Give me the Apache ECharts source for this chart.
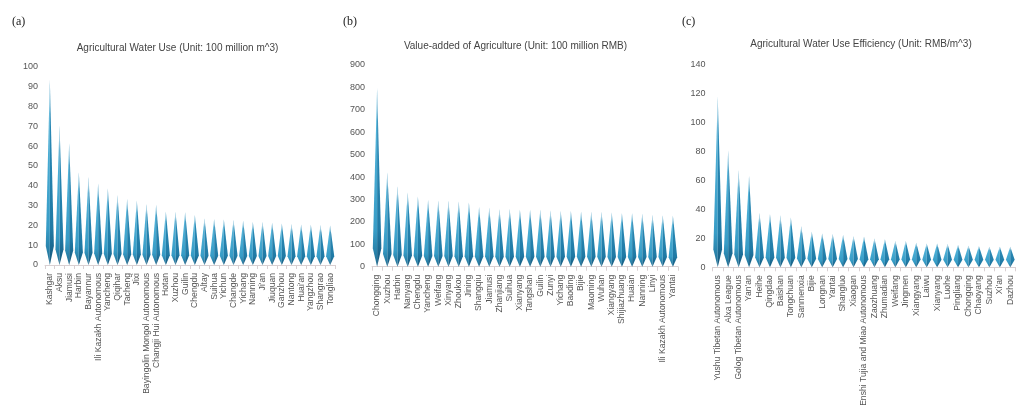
<!DOCTYPE html>
<html>
<head>
<meta charset="utf-8">
<script src="https://cdn.jsdelivr.net/npm/echarts@6/dist/echarts.min.js"></script>
<style>
  html, body { margin: 0; padding: 0; background: #fff; }
  #chart { width: 1016px; height: 412px; }
</style>
</head>
<body>
<div id="chart"></div>
<script>
// (a) Agricultural water use, 100 million m^3
const waterCities = ['Kashgar', 'Aksu', 'Jiamusi', 'Harbin', 'Bayannur', 'Ili Kazakh Autonomous', 'Yancheng', 'Qiqihar', 'Tacheng', 'Jixi',
  'Bayingolin Mongol Autonomous', 'Changji Hui Autonomous', 'Hotan', 'Xuzhou', 'Guilin', 'Chengdu', 'Altay', 'Suihua', 'Yichun', 'Changde',
  'Yichang', 'Nanning', "Ji'an", 'Jiuquan', 'Ganzhou', 'Nantong', "Huai'an", 'Yangzhou', 'Shangrao', 'Tongliao'];
const waterUse = [93.4, 70.5, 61.5, 46.7, 44.5, 41.2, 38.7, 35.3, 33.3, 32.4,
  30.8, 30.4, 26.9, 26.9, 26.6, 25.2, 23.5, 23.2, 23.0, 22.7,
  22.4, 21.7, 21.7, 21.3, 21.0, 20.7, 20.5, 20.3, 20.2, 20.0];

// (b) Value-added of agriculture, 100 million RMB
const valueCities = ['Chongqing', 'Xuzhou', 'Harbin', 'Nanyang', 'Chengdu', 'Yancheng', 'Weifang', 'Xinyang', 'Zhoukou', 'Jining',
  'Shangqiu', 'Jiamusi', 'Zhanjiang', 'Suihua', 'Xianyang', 'Tangshan', 'Guilin', 'Zunyi', 'Yichang', 'Baoding',
  'Bijie', 'Maoming', 'Wuhan', 'Xiangyang', 'Shijiazhuang', 'Huaian', 'Nanning', 'Linyi', 'Ili Kazakh Autonomous', 'Yantai'];
const valueAdded = [797, 421, 358, 331, 313, 298, 295, 294, 291, 287,
  266, 263, 257, 257, 254, 254, 254, 251, 249, 248,
  246, 245, 245, 242, 239, 239, 236, 231, 230, 227];

// (c) Agricultural water use efficiency, RMB/m^3
const effCities = ['Yushu Tibetan Autonomous', 'Alxa League', 'Golog Tibetan Autonomous', "Yan'an", 'Heihe', 'Qingdao', 'Baishan', 'Tongchuan', 'Sanmenxia', 'Bijie',
  'Longnan', 'Yantai', 'Shangluo', 'Xiaogan', 'Enshi Tujia and Miao Autonomous', 'Zaozhuang', 'Zhumadian', 'Weifang', 'Jingmen', 'Xiangyang',
  'Laiwu', 'Xianyang', 'Luohe', 'Pingliang', 'Chongqing', 'Chaoyang', 'Suzhou', "Xi'an", 'Dazhou'];
const efficiency = [117.7, 80.5, 67.0, 63.0, 37.5, 36.6, 35.9, 34.3, 28.3, 24.5,
  23.3, 22.9, 22.2, 21.5, 21.0, 19.9, 19.4, 18.1, 18.1, 16.9,
  16.5, 16.5, 16.0, 15.3, 14.9, 14.6, 14.2, 14.2, 14.2];

const yTicks = [
  { max: 100, interval: 10 },
  { max: 900, interval: 100 },
  { max: 140, interval: 20 }
];

const sans = 'Liberation Sans, Arial, sans-serif';
const serif = 'Liberation Serif, Times New Roman, serif';

function vGrad(stops) {
  return { type: 'linear', x: 0, y: 0, x2: 0, y2: 1, global: false,
    colorStops: stops.map(s => ({ offset: s[0], color: s[1] })) };
}

// One faceted spike per city: a lit left face, a shaded right face,
// and a pale fade toward the tip.
function spikeItem(params, api) {
  const i = api.value(0);
  const v = api.value(1);
  const top = api.coord([i, v]);
  const base = api.coord([i, 0]);
  const band = api.size([1, 0])[0];
  const hw = band * 0.42;
  const cx = top[0], yt = top[1], y0 = base[1];
  const h = y0 - yt;
  const yw = y0 - (6 + 0.07 * h);
  return {
    type: 'group',
    children: [
      { type: 'polygon', shape: { points: [[cx, yt], [cx - hw, yw], [cx, y0]] },
        style: { fill: vGrad([[0, '#5abbe0'], [0.8, '#379cc6'], [1, '#1f6f95']]) } },
      { type: 'polygon', shape: { points: [[cx, yt], [cx + hw, yw], [cx, y0]] },
        style: { fill: vGrad([[0, '#2e8fbb'], [0.8, '#207aa5'], [1, '#16587c']]) } },
      { type: 'polygon', shape: { points: [[cx, yt], [cx - hw, yw], [cx, y0], [cx + hw, yw]] },
        style: { fill: vGrad([[0, 'rgba(236,238,240,0.95)'], [0.18, 'rgba(255,255,255,0)'], [1, 'rgba(255,255,255,0)']]) } }
    ]
  };
}

const panels = [
  { cities: waterCities, values: waterUse, grid: { left: 45, top: 67, width: 290, height: 198 } },
  { cities: valueCities, values: valueAdded, grid: { left: 372, top: 65, width: 306, height: 201.7 } },
  { cities: effCities, values: efficiency, grid: { left: 712.5, top: 64.3, width: 303, height: 203 } }
];

const chart = echarts.init(document.getElementById('chart'), null, { renderer: 'canvas' });

chart.setOption({
  backgroundColor: '#fff',
  animation: false,
  title: [
    { text: '(a)', left: 12, top: 16, padding: 0, textStyle: { fontFamily: serif, fontSize: 12, fontWeight: 'normal', color: '#222' } },
    { text: '(b)', left: 343, top: 16, padding: 0, textStyle: { fontFamily: serif, fontSize: 12, fontWeight: 'normal', color: '#222' } },
    { text: '(c)', left: 682, top: 16, padding: 0, textStyle: { fontFamily: serif, fontSize: 12, fontWeight: 'normal', color: '#222' } },
    { text: 'Agricultural Water Use (Unit: 100 million m^3)', left: 177.5, top: 43, textAlign: 'center', padding: 0,
      textStyle: { fontFamily: sans, fontSize: 10, fontWeight: 'normal', color: '#444' } },
    { text: 'Value-added of Agriculture (Unit: 100 million RMB)', left: 515.5, top: 41, textAlign: 'center', padding: 0,
      textStyle: { fontFamily: sans, fontSize: 10, fontWeight: 'normal', color: '#444' } },
    { text: 'Agricultural Water Use Efficiency (Unit: RMB/m^3)', left: 861, top: 39.5, textAlign: 'center', padding: 0,
      textStyle: { fontFamily: sans, fontSize: 10, fontWeight: 'normal', color: '#444' } }
  ],
  grid: panels.map(p => Object.assign({ containLabel: false }, p.grid)),
  xAxis: panels.map((p, k) => ({
    type: 'category',
    gridIndex: k,
    data: p.cities,
    boundaryGap: true,
    axisLine: { show: true, lineStyle: { color: '#d9d0d2', width: 1 } },
    axisTick: { show: true, length: 4, lineStyle: { color: '#d9d0d2' } },
    axisLabel: { interval: 0, rotate: 90, margin: 8, fontFamily: sans, fontSize: 8.6, color: '#555' },
    splitLine: { show: false }
  })),
  yAxis: panels.map((p, k) => ({
    type: 'value',
    gridIndex: k,
    min: 0,
    max: yTicks[k].max,
    interval: yTicks[k].interval,
    axisLine: { show: false },
    axisTick: { show: false },
    splitLine: { show: false },
    axisLabel: { margin: 7, fontFamily: sans, fontSize: 9, color: '#555' }
  })),
  series: panels.map((p, k) => ({
    type: 'custom',
    xAxisIndex: k,
    yAxisIndex: k,
    renderItem: spikeItem,
    encode: { x: 0, y: 1 },
    data: p.values.map((v, i) => [i, v]),
    clip: false
  }))
});
</script>
</body>
</html>
